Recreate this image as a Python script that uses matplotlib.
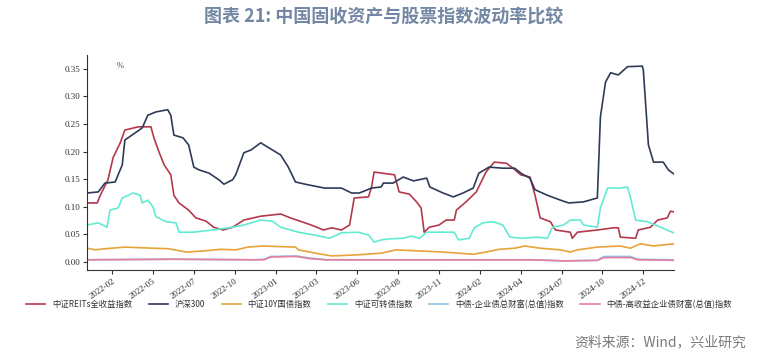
import numpy as np
import pandas as pd
import matplotlib
matplotlib.use('Agg')
import matplotlib.pyplot as plt
import matplotlib.dates as mdates

plt.rcParams['font.family'] = ['Noto Sans CJK SC', 'DejaVu Sans']

# ---------------------------------------------------------------------------
# Datos (volatilidad)
# ---------------------------------------------------------------------------
reits_dates = ['2021-12-28', '2022-01-17', '2022-01-23', '2022-02-07', '2022-02-17', '2022-03-03',
               '2022-03-12', '2022-04-07', '2022-05-02', '2022-05-08', '2022-05-18', '2022-05-28',
               '2022-06-10', '2022-06-16', '2022-06-26', '2022-07-15', '2022-07-29', '2022-08-18',
               '2022-09-02', '2022-09-20', '2022-10-09', '2022-10-31', '2022-12-03', '2023-01-11',
               '2023-01-30', '2023-03-12', '2023-04-05', '2023-04-21', '2023-05-10', '2023-05-26',
               '2023-06-04', '2023-07-02', '2023-07-08', '2023-07-13', '2023-08-06', '2023-08-22',
               '2023-08-31', '2023-09-20', '2023-10-04', '2023-10-13', '2023-10-19', '2023-10-29',
               '2023-11-17', '2023-12-01', '2023-12-17', '2023-12-21', '2024-01-09', '2024-01-29',
               '2024-02-17', '2024-03-04', '2024-03-28', '2024-04-10', '2024-04-25', '2024-05-13',
               '2024-05-23', '2024-06-02', '2024-06-22', '2024-07-02', '2024-07-31', '2024-08-04',
               '2024-08-14', '2024-09-22', '2024-10-24', '2024-11-02', '2024-11-06', '2024-12-06',
               '2024-12-11', '2025-01-04', '2025-01-18', '2025-02-06', '2025-02-12', '2025-02-18']
reits_vals = [0.107, 0.107, 0.121, 0.149, 0.189, 0.216,
              0.239, 0.245, 0.245, 0.225, 0.199, 0.176,
              0.158, 0.121, 0.107, 0.094, 0.080, 0.074,
              0.063, 0.058, 0.063, 0.076, 0.083, 0.087,
              0.080, 0.067, 0.058, 0.062, 0.058, 0.067,
              0.116, 0.118, 0.136, 0.163, 0.160, 0.158,
              0.127, 0.123, 0.109, 0.098, 0.054, 0.063,
              0.067, 0.076, 0.076, 0.094, 0.109, 0.127,
              0.163, 0.181, 0.179, 0.170, 0.158, 0.154,
              0.121, 0.080, 0.073, 0.058, 0.054, 0.043,
              0.054, 0.058, 0.062, 0.062, 0.045, 0.043,
              0.058, 0.063, 0.076, 0.080, 0.092, 0.091]

hs300_dates = ['2021-12-28', '2022-01-19', '2022-02-01', '2022-02-21', '2022-03-07', '2022-03-12',
               '2022-03-26', '2022-04-15', '2022-04-26', '2022-05-12', '2022-06-04', '2022-06-10',
               '2022-06-16', '2022-07-04', '2022-07-15', '2022-07-25', '2022-08-04', '2022-08-24',
               '2022-09-12', '2022-09-22', '2022-10-09', '2022-10-15', '2022-10-31', '2022-11-14',
               '2022-12-03', '2022-12-17', '2023-01-11', '2023-01-26', '2023-02-09', '2023-03-05',
               '2023-04-07', '2023-05-10', '2023-05-30', '2023-06-14', '2023-07-08', '2023-07-27',
               '2023-07-31', '2023-08-19', '2023-09-08', '2023-09-28', '2023-10-24', '2023-10-30',
               '2023-11-25', '2023-12-15', '2024-01-03', '2024-01-23', '2024-02-03', '2024-02-23',
               '2024-03-21', '2024-04-13', '2024-04-27', '2024-05-13', '2024-05-23', '2024-06-16',
               '2024-07-12', '2024-07-28', '2024-08-26', '2024-09-22', '2024-09-28', '2024-10-08',
               '2024-10-18', '2024-11-02', '2024-11-20', '2024-12-19', '2024-12-21', '2024-12-31',
               '2025-01-10', '2025-01-29', '2025-02-08', '2025-02-18']
hs300_vals = [0.125, 0.127, 0.143, 0.145, 0.176, 0.221,
              0.230, 0.243, 0.266, 0.272, 0.276, 0.266,
              0.230, 0.225, 0.212, 0.172, 0.167, 0.161,
              0.149, 0.141, 0.149, 0.158, 0.198, 0.203,
              0.216, 0.208, 0.194, 0.172, 0.145, 0.140,
              0.134, 0.134, 0.125, 0.125, 0.134, 0.136,
              0.143, 0.143, 0.154, 0.147, 0.152, 0.136,
              0.125, 0.118, 0.125, 0.134, 0.161, 0.172,
              0.170, 0.170, 0.160, 0.152, 0.131, 0.121,
              0.112, 0.107, 0.109, 0.116, 0.263, 0.326,
              0.343, 0.339, 0.354, 0.355, 0.348, 0.212,
              0.181, 0.181, 0.167, 0.160]

bond10y_dates = ['2021-12-28', '2022-01-13', '2022-02-01', '2022-03-12', '2022-05-06', '2022-06-06',
                 '2022-07-10', '2022-08-12', '2022-09-16', '2022-10-15', '2022-11-08', '2022-12-07',
                 '2023-02-09', '2023-02-15', '2023-03-26', '2023-04-21', '2023-06-12', '2023-07-27',
                 '2023-08-25', '2023-10-10', '2023-11-25', '2024-01-23', '2024-02-17', '2024-03-14',
                 '2024-04-13', '2024-05-03', '2024-06-02', '2024-07-12', '2024-07-31', '2024-08-14',
                 '2024-09-22', '2024-11-06', '2024-11-26', '2024-12-15', '2025-01-10', '2025-02-18']
bond10y_vals = [0.025, 0.022, 0.024, 0.027, 0.025, 0.024,
                0.018, 0.020, 0.023, 0.022, 0.027, 0.029,
                0.027, 0.022, 0.015, 0.011, 0.013, 0.016,
                0.022, 0.020, 0.018, 0.014, 0.018, 0.023,
                0.025, 0.029, 0.025, 0.022, 0.018, 0.022,
                0.027, 0.029, 0.025, 0.033, 0.029, 0.033]

cb_dates = ['2021-12-28', '2022-01-19', '2022-02-05', '2022-02-11', '2022-02-27', '2022-03-07',
            '2022-03-28', '2022-04-11', '2022-04-15', '2022-04-26', '2022-05-06', '2022-05-12',
            '2022-06-01', '2022-06-20', '2022-06-26', '2022-07-23', '2022-08-31', '2022-10-09',
            '2022-10-31', '2022-12-03', '2022-12-26', '2023-01-11', '2023-02-15', '2023-03-18',
            '2023-04-17', '2023-05-10', '2023-06-12', '2023-07-02', '2023-07-13', '2023-07-27',
            '2023-08-12', '2023-09-08', '2023-09-24', '2023-10-10', '2023-10-24', '2023-12-17',
            '2023-12-25', '2024-01-15', '2024-01-25', '2024-02-11', '2024-03-02', '2024-03-21',
            '2024-04-04', '2024-04-27', '2024-05-27', '2024-06-16', '2024-06-26', '2024-07-18',
            '2024-07-31', '2024-08-20', '2024-08-26', '2024-09-22', '2024-09-28', '2024-10-12',
            '2024-11-06', '2024-11-20', '2024-11-26', '2024-12-06', '2024-12-29', '2025-01-24',
            '2025-02-18']
cb_vals = [0.067, 0.071, 0.063, 0.094, 0.098, 0.116,
           0.125, 0.121, 0.107, 0.112, 0.100, 0.082,
           0.073, 0.071, 0.054, 0.054, 0.058, 0.063,
           0.067, 0.076, 0.074, 0.063, 0.054, 0.049,
           0.043, 0.053, 0.054, 0.049, 0.036, 0.040,
           0.042, 0.043, 0.047, 0.043, 0.054, 0.054,
           0.040, 0.043, 0.062, 0.071, 0.073, 0.067,
           0.045, 0.043, 0.045, 0.043, 0.063, 0.067,
           0.076, 0.076, 0.067, 0.063, 0.098, 0.134,
           0.134, 0.136, 0.116, 0.076, 0.073, 0.063,
           0.053]

corp_dates = ['2021-12-28', '2022-06-15', '2022-11-20', '2022-12-10', '2022-12-22', '2023-02-10',
              '2023-03-10', '2023-04-10', '2023-10-15', '2024-05-15', '2024-07-20', '2024-09-22',
              '2024-10-05', '2024-11-26', '2024-12-10', '2025-02-18']
corp_vals = [0.004, 0.005, 0.004, 0.005, 0.010, 0.011,
             0.007, 0.004, 0.004, 0.004, 0.002, 0.003,
             0.010, 0.010, 0.005, 0.004]

hy_dates = ['2021-12-28', '2022-06-15', '2022-11-20', '2022-12-10', '2022-12-22', '2023-02-10',
            '2023-03-10', '2023-04-10', '2023-10-15', '2024-05-15', '2024-07-20', '2024-09-22',
            '2024-10-05', '2024-11-26', '2024-12-10', '2025-02-18']
hy_vals = [0.004, 0.005, 0.004, 0.004, 0.009, 0.010,
           0.006, 0.004, 0.004, 0.004, 0.002, 0.003,
           0.008, 0.008, 0.004, 0.003]

tick_dates = ['2022-02-15', '2022-05-06', '2022-07-25', '2022-10-13', '2023-01-01', '2023-03-22',
              '2023-06-10', '2023-08-29', '2023-11-17', '2024-02-05', '2024-04-25', '2024-07-14',
              '2024-10-02', '2024-12-21']
tick_labels = ['2022-02', '2022-05', '2022-07', '2022-10', '2023-01', '2023-03', '2023-06',
               '2023-08', '2023-11', '2024-02', '2024-04', '2024-07', '2024-10', '2024-12']

series = [
    ('中证REITs全收益指数', reits_dates, reits_vals, '#b2394c'),
    ('沪深300', hs300_dates, hs300_vals, '#2e3b57'),
    ('中证10Y国债指数', bond10y_dates, bond10y_vals, '#e8a33a'),
    ('中证可转债指数', cb_dates, cb_vals, '#62ebd2'),
    ('中债-企业债总财富(总值)指数', corp_dates, corp_vals, '#8fc3e8'),
    ('中债-高收益企业债财富(总值)指数', hy_dates, hy_vals, '#e67f9f'),
]

# ---------------------------------------------------------------------------
# Gráfico
# ---------------------------------------------------------------------------
fig = plt.figure(figsize=(7.75, 3.57), dpi=100)
ax = fig.add_axes([0.1123, 0.2437, 0.758, 0.602])

for name, d, v, c in series:
    ax.plot(pd.to_datetime(d), v, color=c, linewidth=1.2, label=name)

ax.set_xlim(pd.Timestamp('2021-12-28'), pd.Timestamp('2025-02-20'))
ax.set_ylim(-0.0145, 0.375)
ax.set_yticks(np.arange(0, 0.36, 0.05))
ax.yaxis.set_major_formatter(matplotlib.ticker.FormatStrFormatter('%.2f'))
ax.set_xticks(pd.to_datetime(tick_dates))
ax.set_xticklabels(tick_labels, rotation=35, ha='right', rotation_mode='anchor')

for lab in ax.get_xticklabels() + ax.get_yticklabels():
    lab.set_fontfamily('Liberation Serif')
    lab.set_fontsize(6.5)
    lab.set_color('#333333')
ax.tick_params(axis='both', length=3, width=0.8, color='#333333', pad=2)

ax.spines['top'].set_visible(False)
ax.spines['right'].set_visible(False)
ax.spines['left'].set_color('#333333')
ax.spines['bottom'].set_color('#333333')

ax.text(0.05, 0.97, '%', transform=ax.transAxes, fontsize=6, color='#444444',
        family='Liberation Serif', va='top')

fig.text(0.495, 0.955, '图表 21: 中国固收资产与股票指数波动率比较', ha='center', va='center',
         fontsize=13, fontweight='bold', color='#7387a5')

handles, labels = ax.get_legend_handles_labels()
fig.legend(handles, labels, loc='center', bbox_to_anchor=(0.489, 0.148), ncol=6,
           frameon=False, fontsize=6, handlelength=2.3, columnspacing=2.0,
           handletextpad=0.8, labelcolor='#333333')

fig.text(0.963, 0.04, '资料来源：Wind，兴业研究', ha='right', va='center',
         fontsize=10, color='#7a7a7a')

plt.savefig('out.png', dpi=100)
